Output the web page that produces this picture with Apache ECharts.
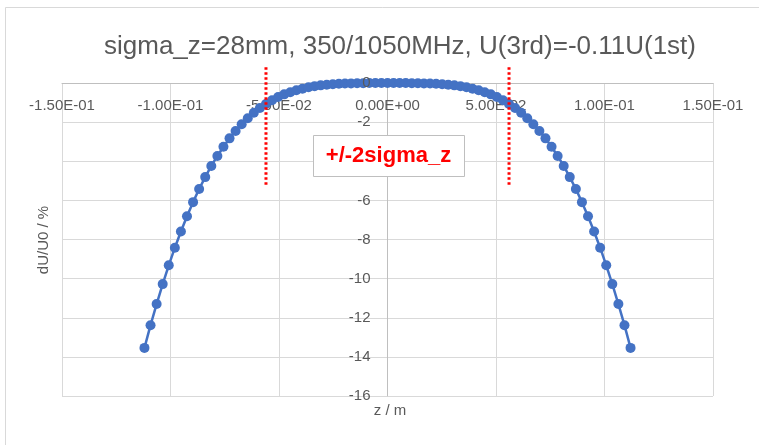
<!DOCTYPE html>
<html>
<head>
<meta charset="utf-8">
<script src="https://cdn.jsdelivr.net/npm/echarts@6/dist/echarts.min.js"></script>
<style>html,body{margin:0;padding:0;background:#fff;}#c{width:759px;height:445px;}</style>
</head>
<body>
<div id="c"></div>
<script>
var titleText = 'sigma_z=28mm, 350/1050MHz, U(3rd)=-0.11U(1st)';
var zValues = [-0.112, -0.1092, -0.1064, -0.1036, -0.1008, -0.098, -0.0952, -0.0924, -0.0896, -0.0868,
  -0.084, -0.0812, -0.0784, -0.0756, -0.0728, -0.07, -0.0672, -0.0644, -0.0616, -0.0588,
  -0.056, -0.0532, -0.0504, -0.0476, -0.0448, -0.042, -0.0392, -0.0364, -0.0336, -0.0308,
  -0.028, -0.0252, -0.0224, -0.0196, -0.0168, -0.014, -0.0112, -0.0084, -0.0056, -0.0028,
  0,
  0.0028, 0.0056, 0.0084, 0.0112, 0.014, 0.0168, 0.0196, 0.0224, 0.0252, 0.028,
  0.0308, 0.0336, 0.0364, 0.0392, 0.042, 0.0448, 0.0476, 0.0504, 0.0532, 0.056,
  0.0588, 0.0616, 0.0644, 0.0672, 0.07, 0.0728, 0.0756, 0.0784, 0.0812, 0.084,
  0.0868, 0.0896, 0.0924, 0.0952, 0.098, 0.1008, 0.1036, 0.1064, 0.1092, 0.112];
var dU = [-13.54, -12.38, -11.30, -10.28, -9.32, -8.42, -7.59, -6.81, -6.09, -5.42,
  -4.81, -4.24, -3.73, -3.26, -2.83, -2.45, -2.11, -1.80, -1.52, -1.28,
  -1.07, -0.88, -0.72, -0.58, -0.47, -0.37, -0.29, -0.22, -0.16, -0.12,
  -0.09, -0.06, -0.04, -0.03, -0.02, -0.01, -0.01, 0, 0, 0,
  0,
  0, 0, 0, -0.01, -0.01, -0.02, -0.03, -0.04, -0.06, -0.09,
  -0.12, -0.16, -0.22, -0.29, -0.37, -0.47, -0.58, -0.72, -0.88, -1.07,
  -1.28, -1.52, -1.80, -2.11, -2.45, -2.83, -3.26, -3.73, -4.24, -4.81,
  -5.42, -6.09, -6.81, -7.59, -8.42, -9.32, -10.28, -11.30, -12.38, -13.54];
var sigmaLines = [-0.056, 0.056];
var sigmaLineTop = 0.8;
var sigmaLineBottom = -5.2;
var xMin = -0.15, xMax = 0.15, xStep = 0.05;
var yMin = -16, yMax = 0, yStep = 2;
var xName = 'z / m';
var yName = 'dU/U0 / %';
var noteText = '+/-2sigma_z';

var FONT = "'Liberation Sans', Arial, sans-serif";
var GRAY = '#595959';
var GRID = { left: 62, right: 46, top: 83, bottom: 49 };
var gridW = 759 - GRID.left - GRID.right;
// y axis crosses x axis at z = 0
var yAxisOffset = -gridW * (0 - xMin) / (xMax - xMin);

function sci(v) {
  if (Math.abs(v) < 1e-12) return '0.00E+00';
  var s = v.toExponential(2);
  var parts = s.split('e');
  var e = parseInt(parts[1], 10);
  var sign = e < 0 ? '-' : '+';
  var n = Math.abs(e);
  return parts[0] + 'E' + sign + (n < 10 ? '0' + n : '' + n);
}

var curve = zValues.map(function (z, i) { return [z, dU[i]]; });

var series = [{
  type: 'line',
  data: curve,
  symbol: 'circle',
  symbolSize: 10,
  itemStyle: { color: '#4472C4' },
  lineStyle: { color: '#4472C4', width: 2.5 },
  clip: false,
  z: 3,
  animation: false
}];
sigmaLines.forEach(function (zs) {
  series.push({
    type: 'line',
    data: [[zs, sigmaLineTop], [zs, sigmaLineBottom]],
    symbol: 'none',
    lineStyle: { color: '#FF0000', width: 3, type: [2.5, 2.5] },
    clip: false,
    z: 4,
    animation: false
  });
});

var chart = echarts.init(document.getElementById('c'), null, { renderer: 'canvas' });
chart.setOption({
  backgroundColor: '#ffffff',
  animation: false,
  title: {
    text: titleText,
    left: 395,
    textAlign: 'center',
    top: 29,
    textStyle: { fontSize: 26, fontWeight: 'normal', color: GRAY, fontFamily: FONT }
  },
  grid: { left: GRID.left, right: GRID.right, top: GRID.top, bottom: GRID.bottom, containLabel: false },
  xAxis: {
    type: 'value',
    position: 'top',
    min: xMin, max: xMax, interval: xStep,
    axisLine: { show: true, onZero: false, lineStyle: { color: '#bfbfbf', width: 1 } },
    axisTick: { show: false },
    axisLabel: { formatter: sci, color: GRAY, fontSize: 15, fontFamily: FONT, margin: 15, inside: true },
    splitLine: { show: true, lineStyle: { color: '#d9d9d9', width: 1 } }
  },
  yAxis: [{
    type: 'value',
    position: 'left',
    offset: yAxisOffset,
    min: yMin, max: yMax, interval: yStep,
    axisLine: { show: true, onZero: false, lineStyle: { color: '#bfbfbf', width: 1 } },
    axisTick: { show: false },
    axisLabel: { show: false },
    splitLine: { show: true, lineStyle: { color: '#d9d9d9', width: 1 } }
  }, {
    type: 'value',
    position: 'left',
    offset: yAxisOffset,
    zlevel: 1,
    z: 10,
    min: yMin, max: yMax, interval: yStep,
    axisLine: { show: false, onZero: false },
    axisTick: { show: false },
    axisLabel: { color: GRAY, fontSize: 15, fontFamily: FONT, margin: 17, showMinLabel: true, showMaxLabel: true },
    splitLine: { show: false }
  }],
  series: series,
  graphic: [
    { type: 'rect', silent: true, z: -10, shape: { x: 5.5, y: 7.5, width: 800, height: 500 },
      style: { fill: 'none', stroke: '#d9d9d9', lineWidth: 1 } },
    { type: 'text', silent: true, x: 44, y: 240, rotation: Math.PI / 2,
      style: { text: yName, fontSize: 15, fontFamily: FONT, fill: GRAY, align: 'center', verticalAlign: 'middle' } },
    { type: 'text', silent: true, x: 390, y: 411,
      style: { text: xName, fontSize: 15, fontFamily: FONT, fill: GRAY, align: 'center', verticalAlign: 'middle' } },
    { type: 'rect', silent: true, z: 100, zlevel: 2, shape: { x: 313.5, y: 135.5, width: 151, height: 41 },
      style: { fill: '#ffffff', stroke: '#bfbfbf', lineWidth: 1 } },
    { type: 'text', silent: true, z: 101, zlevel: 2, x: 388.5, y: 156,
      style: { text: noteText, fontSize: 22, fontWeight: 'bold', fontFamily: FONT, fill: '#FF0000', align: 'center', verticalAlign: 'middle' } }
  ]
});
</script>
</body>
</html>
